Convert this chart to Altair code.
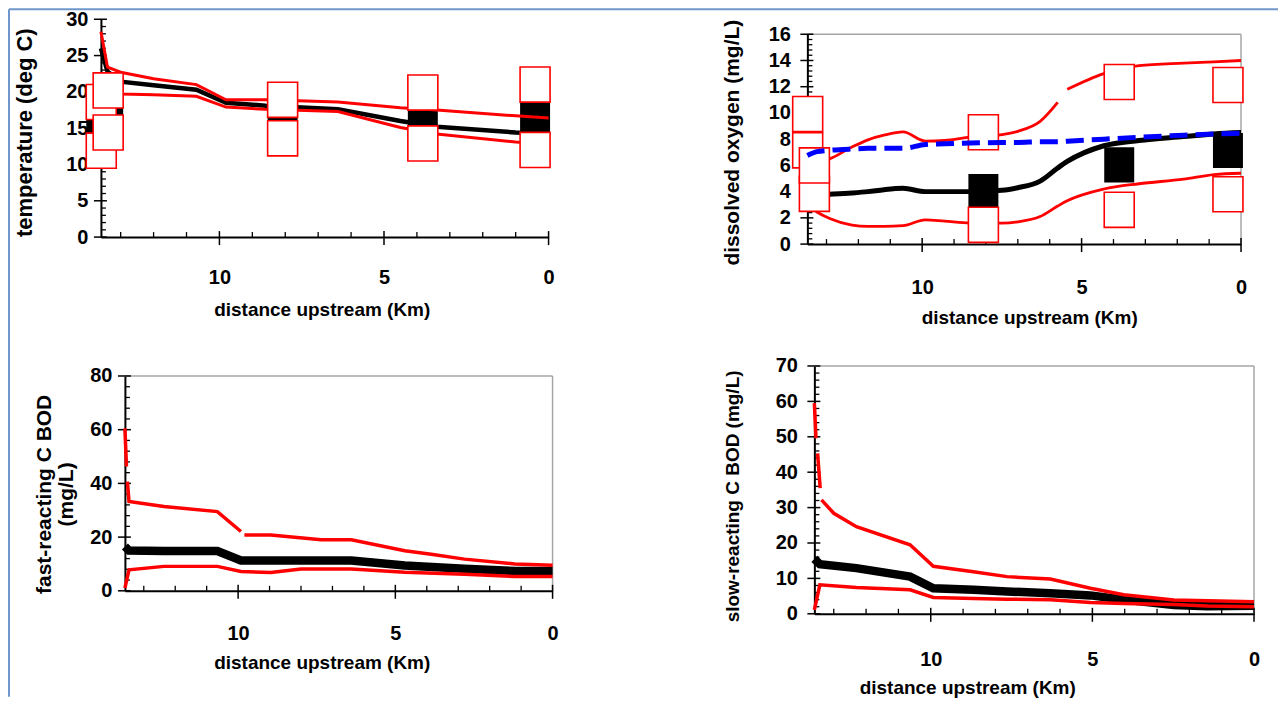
import altair as alt
import pandas as pd

# ------------------------------------------------------------------ data
X_MAX = 13.6

# temperature (deg C)
temp_km = [13.6, 13.4, 13.0, 12.0, 10.7, 9.8, 8.6, 6.4, 4.5, 3.4, 1.0, 0.0]
temp_mean = [26.0, 22.8, 21.4, 20.9, 20.3, 18.5, 18.1, 17.6, 16.0, 15.2, 14.4, 14.2]
temp_max = [28.3, 23.4, 22.7, 21.8, 21.0, 18.9, 18.9, 18.6, 17.8, 17.5, 16.7, 16.4]
temp_min = [20.5, 20.0, 19.7, 19.6, 19.4, 17.9, 17.6, 17.3, 15.1, 14.2, 13.1, 12.8]
temp_obs_red_km = [13.59, 13.59, 13.38, 13.38, 8.08, 8.08, 3.82, 3.82, 0.41, 0.41]
temp_obs_red = [18.6, 11.9, 20.2, 14.4, 18.9, 13.6, 19.9, 12.9, 21.0, 12.0]
temp_obs_mean_km = [13.59, 13.38, 8.08, 3.82, 0.41]
temp_obs_mean = [15.0, 17.2, 16.2, 16.3, 16.4]

# dissolved oxygen (mg/L)
do_km = [13.6, 13.3, 12.9, 12.2, 11.7, 11.2, 10.6, 9.9, 9.3, 8.5, 7.5, 7.0, 6.3,
         5.75, 5.45, 4.3, 3.2, 1.8, 0.85, 0.0]
do_mean = [3.7, 3.75, 3.8, 3.9, 4.0, 4.15, 4.25, 4.0, 4.0, 4.0, 4.1, 4.3, 4.8,
           5.8, 6.3, 7.5, 7.9, 8.2, 8.4, 8.5]
do_max = [6.0, 6.2, 6.5, 7.4, 7.95, 8.3, 8.55, 7.85, 7.9, 8.15, 8.35, 8.6, 9.35,
          10.8, 11.8, 13.0, 13.6, 13.8, 13.9, 14.0]
do_max_seg = [1] * 14 + [2] * 6
do_min = [3.0, 2.45, 1.95, 1.45, 1.35, 1.35, 1.4, 1.85, 1.75, 1.6, 1.6, 1.7, 2.1,
          2.9, 3.3, 4.2, 4.6, 4.95, 5.3, 5.4]
do_sat = [6.75, 7.05, 7.15, 7.25, 7.3, 7.3, 7.3, 7.6, 7.65, 7.7, 7.75, 7.75, 7.8,
          7.8, 7.85, 8.0, 8.15, 8.3, 8.4, 8.45]
do_obs_red_km = [13.59, 13.59, 13.38, 13.38, 8.08, 8.08, 3.82, 3.82, 0.41, 0.41]
do_obs_red = [7.15, 9.92, 3.83, 6.0, 8.53, 1.47, 12.36, 2.61, 12.13, 3.8]
do_obs_mean_km = [8.08, 3.82, 0.41]
do_obs_mean = [4.0, 6.04, 7.13]

# fast-reacting CBOD (mg/L)
fast_max_km = [13.6, 13.55, 13.52, 13.47, 12.36, 10.66, 9.91, 9.8, 8.96, 7.36, 6.4,
               4.7, 3.86, 2.8, 1.2, 0.0]
fast_max = [60.5, 46.3, 40.7, 33.3, 31.4, 29.5, 22.1, 20.8, 20.8, 19.0, 19.0, 14.9,
            13.6, 11.8, 10.0, 9.5]
fast_max_seg = [1, 1, 2, 2, 2, 2, 2, 3, 3, 3, 3, 3, 3, 3, 3, 3]
fast_km = [13.6, 13.47, 12.36, 10.66, 9.91, 8.96, 8.0, 6.4, 4.7, 2.8, 1.2, 0.0]
fast_mean = [16.5, 15.0, 14.8, 14.8, 11.3, 11.3, 11.3, 11.3, 9.4, 8.2, 7.4, 7.4]
fast_min = [1.0, 7.8, 9.1, 9.1, 7.2, 6.8, 8.1, 8.1, 6.9, 6.2, 5.3, 5.3]

# slow-reacting CBOD (mg/L)
slow_max_km = [13.6, 13.55, 13.5, 13.42, 13.38, 13.0, 12.3, 10.64, 9.92, 8.68, 7.64,
               6.3, 5.06, 4.03, 2.48, 0.0]
slow_max = [59.5, 49.6, 45.3, 35.5, 32.2, 28.4, 24.6, 19.5, 13.4, 11.9, 10.5, 9.8,
            7.2, 5.4, 3.9, 3.4]
slow_max_seg = [1, 1, 2, 2, 3, 3, 3, 3, 3, 3, 3, 3, 3, 3, 3, 3]
slow_km = [13.6, 13.43, 12.3, 10.64, 9.92, 8.68, 7.64, 6.3, 5.06, 4.03, 2.48, 1.45, 0.0]
slow_mean = [15.5, 14.0, 12.9, 10.5, 7.2, 6.8, 6.3, 5.8, 5.2, 4.0, 2.5, 2.1, 2.3]
slow_min = [1.1, 8.2, 7.4, 6.8, 4.6, 4.3, 4.1, 4.0, 3.2, 2.9, 2.6, 2.2, 2.0]

x_major = [10, 5, 0]
x_minor = [13, 12, 11, 9, 8, 7, 6, 4, 3, 2, 1]

# ------------------------------------------------------------------ style
FONT = "Liberation Sans"
LAB = 20
SQ = "M-1,-1.17L1,-1.17L1,1.17L-1,1.17Z"
GREY = "#a6a6a6"


def df(km, v, seg=None):
    d = {"km": km, "v": v}
    d["seg"] = seg if seg is not None else [1] * len(km)
    return pd.DataFrame(d)


def panel(cfg, body):
    xs = alt.Scale(domain=[X_MAX, 0], range=[cfg["xoff"], cfg["w"]], nice=False, zero=False)
    ys = alt.Scale(domain=[0, cfg["ymax"]], range=[cfg["h"], cfg["yoff"]], nice=False, zero=False)
    common = dict(ticks=False, grid=False, domainColor="black", domainWidth=2,
                  labelFont=FONT, labelFontSize=LAB, labelFontWeight="bold",
                  labelColor="black", labelFlush=False,
                  titleFont=FONT, titleFontWeight="bold", titleColor="black",
                  titleBaseline="middle", titleAlign="center")
    xaxis = alt.Axis(values=x_major, title="distance upstream (Km)",
                     labelPadding=cfg["xlp"], titleFontSize=cfg["xtfs"],
                     titleX=cfg["xtx"], titleY=cfg["xty"], **common)
    yaxis = alt.Axis(values=cfg["ymajor"], title=cfg["ytitle"],
                     labelPadding=cfg["ylp"], titleFontSize=cfg["ytfs"],
                     titleLineHeight=cfg["ytfs"] + 1,
                     titleX=cfg["ytx"], titleY=cfg["yty"], titleAngle=270,
                     offset=-cfg["xoff"], **common)

    def X(field="km:Q"):
        return alt.X(field, scale=xs, axis=xaxis)

    def Y(field="v:Q"):
        return alt.Y(field, scale=ys, axis=yaxis)

    layers = []
    layers.append(alt.Chart(df([X_MAX, 0], [0, 0])).mark_point(opacity=0)
                  .encode(x=X(), y=Y()))
    if cfg["frame"]:
        layers.append(alt.Chart(pd.DataFrame({"km": [X_MAX], "km2": [0], "v": [cfg["ymax"]]}))
                      .mark_rule(color=GREY, strokeWidth=1.5)
                      .encode(x=X(), x2="km2:Q", y=Y()))
        layers.append(alt.Chart(pd.DataFrame({"km": [0], "v": [0], "v2": [cfg["ymax"]]}))
                      .mark_rule(color=GREY, strokeWidth=1.5)
                      .encode(x=X(), y=Y(), y2="v2:Q"))
    ax = cfg["xoff"]
    h = cfg["h"]
    layers.append(alt.Chart(pd.DataFrame({"v": cfg["ymajor"]}))
                  .mark_rule(color="black", strokeWidth=1.5)
                  .encode(y=Y(), x=alt.value(ax - 7), x2=alt.value(ax + 6)))
    layers.append(alt.Chart(pd.DataFrame({"v": cfg["yminor"]}))
                  .mark_rule(color="black", strokeWidth=1.3)
                  .encode(y=Y(), x=alt.value(ax), x2=alt.value(ax + 5)))
    layers.append(alt.Chart(pd.DataFrame({"km": x_major}))
                  .mark_rule(color="black", strokeWidth=1.5)
                  .encode(x=X(), y=alt.value(h - 6), y2=alt.value(h + 8)))
    layers.append(alt.Chart(pd.DataFrame({"km": x_minor}))
                  .mark_rule(color="black", strokeWidth=1.3)
                  .encode(x=X(), y=alt.value(h - 5), y2=alt.value(h)))
    if cfg.get("border"):
        b = alt.Chart(pd.DataFrame({"a": [0]}))
        layers.append(b.mark_rule(color="#6f97cc", strokeWidth=2)
                      .encode(x=alt.value(-92), y=alt.value(-10), y2=alt.value(678)))
        layers.append(b.mark_rule(color="#6f97cc", strokeWidth=2)
                      .encode(x=alt.value(-92), x2=alt.value(1178), y=alt.value(-10)))

    for kind, data, props in body:
        c = alt.Chart(data)
        if kind == "line":
            layers.append(c.mark_line(**props).encode(x=X(), y=Y(), detail="seg:N"))
        else:
            layers.append(c.mark_point(shape=SQ, size=900, filled=True, opacity=1, **props)
                          .encode(x=X(), y=Y()))
    return alt.layer(*layers).properties(width=cfg["w"], height=cfg["h"])


BLACKSQ = dict(fill="black", stroke="black", strokeWidth=0)
REDSQ = dict(fill="white", stroke="red", strokeWidth=1.6)

p1 = panel(dict(w=448, h=218, xoff=0, yoff=0, ymax=30, ymajor=[0, 5, 10, 15, 20, 25, 30],
                yminor=[v for v in range(31) if v % 5], ytitle="temperature (deg C)",
                ytfs=22, ytx=-76, yty=113, ylp=13,
                xtfs=19, xtx=221, xty=72, xlp=30, frame=False, border=True),
           [("pt", df(temp_obs_mean_km, temp_obs_mean), BLACKSQ),
            ("line", df(temp_km, temp_mean), dict(color="black", strokeWidth=4.5)),
            ("line", df(temp_km, temp_max), dict(color="red", strokeWidth=3)),
            ("line", df(temp_km, temp_min), dict(color="red", strokeWidth=3)),
            ("pt", df(temp_obs_red_km, temp_obs_red), REDSQ)])

p2 = panel(dict(w=434, h=225, xoff=0, yoff=15, ymax=16, ymajor=[0, 2, 4, 6, 8, 10, 12, 14, 16],
                yminor=[round(i * 0.4, 1) for i in range(41) if i % 5],
                ytitle="dissolved oxygen (mg/L)", ytfs=21, ytx=-75, yty=123, ylp=17,
                xtfs=19, xtx=222, xty=73, xlp=33, frame=True),
           [("pt", df(do_obs_mean_km, do_obs_mean), BLACKSQ),
            ("line", df(do_km, do_mean), dict(color="black", strokeWidth=5, interpolate="monotone")),
            ("line", df(do_km, do_max, do_max_seg), dict(color="red", strokeWidth=2.8, interpolate="monotone")),
            ("line", df(do_km, do_min), dict(color="red", strokeWidth=2.8, interpolate="monotone")),
            ("pt", df(do_obs_red_km, do_obs_red), REDSQ),
            ("line", df(do_km, do_sat), dict(color="#0000ff", strokeWidth=5, strokeDash=[18, 8],
                                             interpolate="monotone"))])

p3 = panel(dict(w=452, h=225, xoff=24, yoff=10, ymax=80, ymajor=[0, 20, 40, 60, 80],
                yminor=[v for v in range(0, 81, 4) if v % 20],
                ytitle=["fast-reacting C BOD", "(mg/L)"], ytfs=21, ytx=-80, yty=128, ylp=13,
                xtfs=19, xtx=221, xty=72, xlp=33, frame=True),
           [("line", df(fast_km, fast_mean), dict(color="black", strokeWidth=8.5)),
            ("line", df(fast_max_km, fast_max, fast_max_seg), dict(color="red", strokeWidth=3.5)),
            ("line", df(fast_km, fast_min), dict(color="red", strokeWidth=3.5))])

p4 = panel(dict(w=447, h=248, xoff=7, yoff=0, ymax=70, ymajor=[0, 10, 20, 30, 40, 50, 60, 70],
                yminor=[v for v in range(0, 71, 2) if v % 10],
                ytitle="slow-reacting C BOD (mg/L)", ytfs=19, ytx=-82, yty=130, ylp=17,
                xtfs=19, xtx=160, xty=74, xlp=36, frame=True),
           [("line", df(slow_km, slow_mean), dict(color="black", strokeWidth=8.5)),
            ("line", df(slow_max_km, slow_max, slow_max_seg), dict(color="red", strokeWidth=3.5)),
            ("line", df(slow_km, slow_min), dict(color="red", strokeWidth=3.5))])

chart = alt.concat(p1, p2, p3, p4, columns=2, spacing={"row": 122, "column": 255},
                   bounds="flush", align="each")
chart = chart.properties(padding=0, background="white").configure_view(stroke=None)
chart.save("out.html", embed_options={"renderer": "svg", "actions": False})
